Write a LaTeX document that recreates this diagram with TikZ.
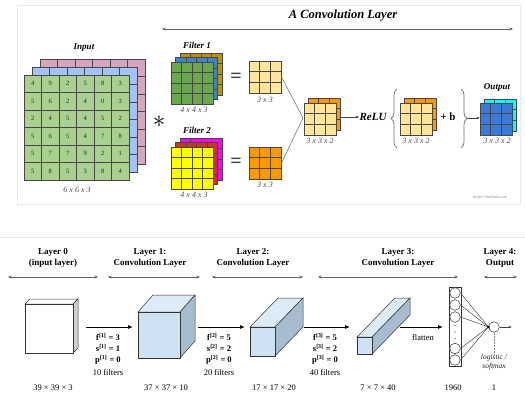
\documentclass[tikz,border=0pt]{standalone}
\usepackage{fontspec}
\setmainfont{Liberation Serif}
\usetikzlibrary{calc,arrows.meta,decorations.pathreplacing}

% palette
\definecolor{inGreen}{HTML}{A9D08E}
\definecolor{inBlue}{HTML}{A4C2F4}
\definecolor{inPink}{HTML}{D5A6BD}
\definecolor{fGreen}{HTML}{6AA84F}
\definecolor{fBlue}{HTML}{3D85C6}
\definecolor{fGold}{HTML}{BF9000}
\definecolor{fYellow}{HTML}{FFFF00}
\definecolor{fRed}{HTML}{CC3322}
\definecolor{fMagenta}{HTML}{FF00FF}
\definecolor{mapYellow}{HTML}{FFE599}
\definecolor{mapOrange}{HTML}{FF9900}
\definecolor{outBlue}{HTML}{3C78D8}
\definecolor{outCyan}{HTML}{00FFFF}
\definecolor{cubeFront}{HTML}{CFE2F3}
\definecolor{cubeSide}{HTML}{A7BCCF}
\definecolor{cubeGray}{HTML}{D0D0D0}

\tikzset{
  gl/.style={draw=black!72, line width=0.45pt},
  gridsq/.style={gl, rectangle, inner sep=0pt, outer sep=0pt},
  numtxt/.style={font=\fontsize{6.5}{7}\selectfont, text=black!85, inner sep=0pt},
  headit/.style={font=\fontsize{9}{10}\selectfont\bfseries\itshape, inner sep=0pt},
  dimit/.style={font=\fontsize{8}{9}\selectfont\itshape, text=black!70, inner sep=0pt},
  bighead/.style={font=\fontsize{9}{10.5}\selectfont\bfseries, align=center, inner sep=0pt},
  ptxt/.style={font=\fontsize{8.5}{9}\selectfont, inner sep=0pt},
  dimtxt/.style={font=\fontsize{8.5}{9}\selectfont, inner sep=0pt},
  extent/.style={draw=black!60, line width=0.45pt, arrows={Stealth[length=3.5pt,width=3pt]-Stealth[length=3.5pt,width=3pt]}},
  flow/.style={draw=black, line width=0.8pt, -{Latex[length=5pt,width=4pt]}},
  thinflow/.style={draw=black!75, line width=0.5pt, -{Latex[length=3pt,width=2.5pt]}},
  joinline/.style={draw=black!60, line width=0.5pt},
  curly/.style={draw=black!55, line width=0.7pt, decorate, decoration={brace, amplitude=6pt}},
  neuron/.style={circle, draw=black!80, fill=white, line width=0.5pt, minimum size=10.6pt, inner sep=0pt},
  cubeline/.style={draw=black!80, line width=0.5pt},
}

% square feature map: name, x, y, cells, side, fill
\newcommand\cellgrid[6]{%
  \node[gridsq, fill=#6, minimum size=#5pt, anchor=north west] (#1) at (#2,#3) {};
  \foreach \k in {1,...,#4}{
    \draw[gl] ($(#1.north west)!\k/#4!(#1.north east)$) -- ($(#1.south west)!\k/#4!(#1.south east)$);
    \draw[gl] ($(#1.north west)!\k/#4!(#1.south west)$) -- ($(#1.north east)!\k/#4!(#1.south east)$);
  }}

% volume: name, x, y, w, h, dx, dy, front fill, side fill
\newcommand\volume[9]{%
  \filldraw[cubeline, fill=#8!70!white] (#2,#3) -- (#2+#4,#3) -- (#2+#4+#6,#3+#7) -- (#2+#6,#3+#7) -- cycle;
  \filldraw[cubeline, fill=#9] (#2+#4,#3) -- (#2+#4+#6,#3+#7) -- (#2+#4+#6,#3+#5+#7) -- (#2+#4,#3+#5) -- cycle;
  \node[cubeline, fill=#8, rectangle, inner sep=0pt, minimum width=#4pt, minimum height=#5pt, anchor=north west] (#1) at (#2,#3) {};}

\newcommand\hyp[3]{\textbf{#1\textsuperscript{[#2]} = #3}}

\begin{document}
\begin{tikzpicture}[x=1pt,y=-1pt]
\useasboundingbox (0,0) rectangle (525,398);
\fill[white] (0,0) rectangle (525,398);

% ---------------- upper panel: one convolution layer ----------------
\draw[draw=black!8, line width=0.6pt] (17,5) rectangle (520,204);
\node[font=\fontsize{12.5}{13}\selectfont\bfseries\itshape, inner sep=0pt] (title) at (343,16) {A Convolution Layer};
\coordinate (tl) at (162,29);
\coordinate (tr) at (513,29);
\draw[extent] (tl) -- (tr);

% input volume 6x6x3
\node[headit] (inlab) at (84,48) {Input};
\cellgrid{inP}{40}{59}{6}{105}{inPink}
\cellgrid{inB}{32}{67}{6}{105}{inBlue}
\cellgrid{inG}{24}{75}{6}{105}{inGreen}
\foreach \row [count=\r] in {{4,9,2,5,8,3},{5,6,2,4,0,3},{2,4,5,4,5,2},{5,6,5,4,7,8},{5,7,7,9,2,1},{5,8,5,3,8,4}}{
  \foreach \v [count=\c] in \row {
    \node[numtxt] (v\r\c) at (24+17.5*\c-8.75, 75+17.5*\r-8.75) {\v};
  }
}
\node[dimit] (indim) at (77,190) {6 x 6 x 3};

\node[inner sep=0pt, font=\fontsize{32}{32}\selectfont] (conv) at (159,122) {$\ast$};

% filter 1
\node[headit] (f1lab) at (197,45) {Filter 1};
\cellgrid{f1c}{180}{53}{4}{42}{fGold}
\cellgrid{f1b}{175.5}{57.5}{4}{42}{fBlue}
\cellgrid{f1a}{171}{62}{4}{42}{fGreen}
\node[dimit] (f1dim) at (194,110) {4 x 4 x 3};

% filter 2
\node[headit] (f2lab) at (197,130) {Filter 2};
\cellgrid{f2c}{180}{138}{4}{42}{fMagenta}
\cellgrid{f2b}{175.5}{142.5}{4}{42}{fRed}
\cellgrid{f2a}{171}{147}{4}{42}{fYellow}
\node[dimit] (f2dim) at (194,195) {4 x 4 x 3};

\node[inner sep=0pt, font=\fontsize{20}{20}\selectfont\bfseries, text=black!75] (eq1) at (236,78) {=};
\node[inner sep=0pt, font=\fontsize{20}{20}\selectfont\bfseries, text=black!75] (eq2) at (236,163) {=};

% the two 3x3 maps
\cellgrid{m1}{249}{61}{3}{32}{mapYellow}
\node[dimit] (m1dim) at (265,100) {3 x 3};
\cellgrid{m2}{249}{147}{3}{32}{mapOrange}
\node[dimit] (m2dim) at (265,185) {3 x 3};

% stacked 3x3x2
\cellgrid{s1b}{308}{98}{3}{32}{mapOrange}
\cellgrid{s1a}{304}{103}{3}{32}{mapYellow}
\node[dimit] (s1dim) at (320,141) {3 x 3 x 2};
\coordinate (join) at (303,118);
\draw[joinline] (m1.east) ++(0,-1) -- (join);
\draw[joinline] (m2.east) ++(0,1) -- (join);

\node[font=\fontsize{11}{12}\selectfont\bfseries\itshape, inner sep=0pt] (relu) at (373,117) {ReLU};
\draw[thinflow] (s1b.east |- relu) -- (relu.west);

% bias-added stack inside braces
\draw[curly] (397,148) -- (397,89);
\cellgrid{s2b}{404}{98}{3}{32}{mapOrange}
\cellgrid{s2a}{400}{103}{3}{32}{mapYellow}
\node[dimit] (s2dim) at (416,141) {3 x 3 x 2};
\node[font=\fontsize{11}{12}\selectfont\bfseries, inner sep=0pt] (bias) at (448,117) {+ b};
\draw[curly] (461,89) -- (461,148);
\coordinate (braceR) at (467,118);

% output 3x3x2
\node[headit] (outlab) at (497,87) {Output};
\cellgrid{o1b}{484}{99}{3}{32}{outCyan}
\cellgrid{o1a}{480}{103}{3}{32}{outBlue}
\node[dimit] (odim) at (497,141) {3 x 3 x 2};
\draw[thinflow] (braceR) -- (o1a.west |- braceR);

\node[font=\fontsize{4.5}{5}\selectfont\itshape, text=black!45, inner sep=0pt] (url) at (490,197) {https://indoml.com};

% separator
\draw[draw=black!8, line width=0.6pt] (0,237) -- (525,237);

% ---------------- lower panel: a small ConvNet ----------------
\node[bighead] (L0) at (53,258) {Layer 0\\(input layer)};
\node[bighead] (L1) at (150,258) {Layer 1:\\Convolution Layer};
\node[bighead] (L2) at (253,258) {Layer 2:\\Convolution Layer};
\node[bighead] (L3) at (398,258) {Layer 3:\\Convolution Layer};
\node[bighead] (L4) at (500,258) {Layer 4:\\Output};
\coordinate (L0a) at (8,277);   \coordinate (L0b) at (98,277);
\coordinate (L1a) at (108,277); \coordinate (L1b) at (200,277);
\coordinate (L2a) at (212,277); \coordinate (L2b) at (303,277);
\coordinate (L3a) at (318,277); \coordinate (L3b) at (458,277);
\coordinate (L4a) at (484,277); \coordinate (L4b) at (517,277);
\draw[extent] (L0a) -- (L0b);
\draw[extent] (L1a) -- (L1b);
\draw[extent] (L2a) -- (L2b);
\draw[extent] (L3a) -- (L3b);
\draw[extent] (L4a) -- (L4b);

% volumes
\volume{c0}{25}{304}{48}{49}{5}{-5}{white}{cubeGray}
\volume{c1}{138}{312}{42}{46}{15}{-17}{cubeFront}{cubeSide}
\volume{c2}{250}{327}{25}{29}{28}{-29}{cubeFront}{cubeSide}
\volume{c3}{357}{337}{15}{17}{38}{-39}{cubeFront}{cubeSide}

\node[dimtxt] (d0) at (53,388) {39 × 39 × 3};
\node[dimtxt] (d1) at (166,388) {37 × 37 × 10};
\node[dimtxt] (d2) at (274,388) {17 × 17 × 20};
\node[dimtxt] (d3) at (378,388) {7 × 7 × 40};
\node[dimtxt] (d4) at (453,388) {1960};
\node[dimtxt] (d5) at (494,388) {1};

% transitions
\coordinate (a1s) at (86,327);  \coordinate (a1e) at (133,327);
\coordinate (a2s) at (198,327); \coordinate (a2e) at (245,327);
\coordinate (a3s) at (304,327); \coordinate (a3e) at (350,327);
\coordinate (a4s) at (400,327); \coordinate (a4e) at (443,327);
\draw[flow] (a1s) -- (a1e);
\draw[flow] (a2s) -- (a2e);
\draw[flow] (a3s) -- (a3e);
\draw[flow] (a4s) -- (a4e);

\node[ptxt] (p1f) at (108,337) {\hyp{f}{1}{3}};
\node[ptxt] (p1s) at (108,348) {\hyp{s}{1}{1}};
\node[ptxt] (p1p) at (108,359.5) {\hyp{p}{1}{0}};
\node[ptxt] (p1n) at (108,373) {10 filters};

\node[ptxt] (p2f) at (219,337) {\hyp{f}{2}{5}};
\node[ptxt] (p2s) at (219,348) {\hyp{s}{2}{2}};
\node[ptxt] (p2p) at (219,359.5) {\hyp{p}{2}{0}};
\node[ptxt] (p2n) at (219,373) {20 filters};

\node[ptxt] (p3f) at (325,337) {\hyp{f}{3}{5}};
\node[ptxt] (p3s) at (325,348) {\hyp{s}{3}{2}};
\node[ptxt] (p3p) at (325,359.5) {\hyp{p}{3}{0}};
\node[ptxt] (p3n) at (325,373) {40 filters};

\node[ptxt] (flat) at (423,338) {flatten};

% flattened vector
\node[draw=black!80, fill=white, line width=0.5pt, rectangle, inner sep=0pt, minimum width=12pt, minimum height=79pt, anchor=north west] (vec) at (449,287) {};
\node[neuron] (u1) at (455,293) {};
\node[neuron] (u2) at (455,305) {};
\node[neuron] (u3) at (455,317) {};
\node[neuron] (u4) at (455,348.5) {};
\node[neuron] (u5) at (455,360) {};
\fill[black!80] (455,325.5) circle (0.7) (455,332) circle (0.7) (455,338.5) circle (0.7);

% output unit
\node[neuron] (yout) at (494,327) {};
\coordinate (hub) at (yout.west);
\foreach \u in {u1,u2,u3,u4,u5}{\draw[joinline, draw=black!70] (\u.east) -- (hub);}
\fill[black] (hub) circle (1.3);
\coordinate (yend) at (512,327);
\draw[thinflow] (yout.east) -- (yend);
\node[font=\fontsize{7.5}{8.5}\selectfont\itshape, align=center, inner sep=0pt, text=black!85] (act) at (494,362) {logistic /\\softmax};
\draw[draw=black!50, line width=0.5pt, densely dotted] (yout.south) -- (act.north);
\end{tikzpicture}
\end{document}
